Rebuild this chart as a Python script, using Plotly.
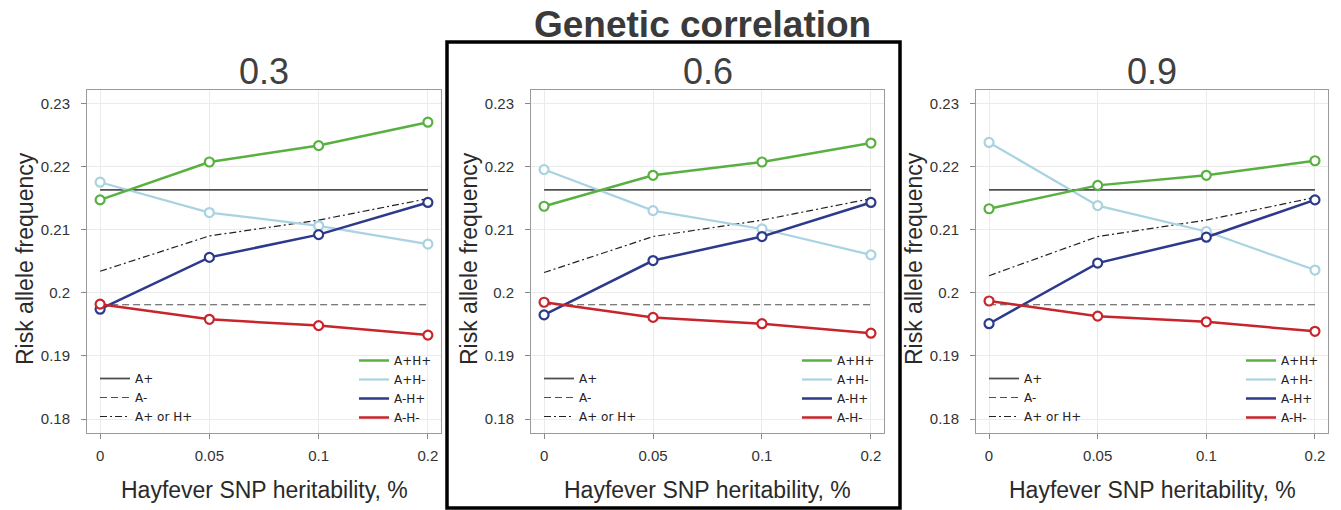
import plotly.graph_objects as go

# ---------------- data ----------------
heritability = ["0", "0.05", "0.1", "0.2"]
correlations = ["0.3", "0.6", "0.9"]

# one list per panel (genetic correlation 0.3, 0.6, 0.9)
a_pos_h_pos = [
    [0.2147, 0.2207, 0.2233, 0.2270],
    [0.2137, 0.2186, 0.2207, 0.2237],
    [0.2133, 0.2170, 0.2186, 0.2209],
]
a_pos_h_neg = [
    [0.2175, 0.2127, 0.2106, 0.2077],
    [0.2195, 0.2130, 0.2101, 0.2060],
    [0.2238, 0.2138, 0.2097, 0.2036],
]
a_neg_h_pos = [
    [0.1974, 0.2056, 0.2092, 0.2143],
    [0.1965, 0.2051, 0.2089, 0.2143],
    [0.1951, 0.2047, 0.2088, 0.2147],
]
a_neg_h_neg = [
    [0.1982, 0.1958, 0.1948, 0.1933],
    [0.1985, 0.1961, 0.1951, 0.1936],
    [0.1987, 0.1963, 0.1954, 0.1939],
]
a_pos_or_h_pos = [
    [0.2034, 0.2090, 0.2115, 0.2149],
    [0.2032, 0.2089, 0.2115, 0.2149],
    [0.2027, 0.2089, 0.2115, 0.2151],
]
a_pos = [0.2163, 0.2163, 0.2163]
a_neg = [0.1981, 0.1981, 0.1981]

y_ticks = [0.18, 0.19, 0.20, 0.21, 0.22, 0.23]
y_tick_text = ["0.18", "0.19", "0.2", "0.21", "0.22", "0.23"]

# ---------------- styles ----------------
W, H = 1341, 510
C_GREEN = "#58b040"
C_LBLUE = "#a9d3e0"
C_NAVY = "#2d3a8c"
C_RED = "#c8242b"
C_REF = "#505050"
TXT = "#3a3a3a"

panel_px = [(87, 441), (531, 884), (976, 1328)]
plot_top, plot_bot = 90, 433

fig = go.Figure()

colored = [
    ("A+H+", a_pos_h_pos, C_GREEN, 2.5, 1),
    ("A+H-", a_pos_h_neg, C_LBLUE, 2.2, 2),
    ("A-H+", a_neg_h_pos, C_NAVY, 2.5, 3),
    ("A-H-", a_neg_h_neg, C_RED, 2.5, 4),
]
draw_order = [1, 0, 2, 3]

for p in range(3):
    xa = "x" if p == 0 else f"x{p+1}"
    ya = "y" if p == 0 else f"y{p+1}"
    leg_left = "legend" if p == 0 else f"legend{2*p+1}"
    leg_right = f"legend{2*p+2}"

    # reference lines
    fig.add_trace(go.Scatter(
        x=[heritability[0], heritability[-1]], y=[a_pos[p], a_pos[p]],
        mode="lines", name="A+", line=dict(color=C_REF, width=1.8),
        xaxis=xa, yaxis=ya, legend=leg_left, legendrank=1, hoverinfo="skip"))
    fig.add_trace(go.Scatter(
        x=[heritability[0], heritability[-1]], y=[a_neg[p], a_neg[p]],
        mode="lines", name="A-", line=dict(color=C_REF, width=1.2, dash="7px,4px"),
        xaxis=xa, yaxis=ya, legend=leg_left, legendrank=2, hoverinfo="skip"))
    fig.add_trace(go.Scatter(
        x=heritability, y=a_pos_or_h_pos[p],
        mode="lines", name="A+ or H+", line=dict(color="#222222", width=1.2, dash="7px,3px,2px,3px"),
        xaxis=xa, yaxis=ya, legend=leg_left, legendrank=3, hoverinfo="skip"))

    for i in draw_order:
        name, vals, col, lw, rank = colored[i]
        fig.add_trace(go.Scatter(
            x=heritability, y=vals[p], mode="lines", name=name,
            line=dict(color=col, width=lw),
            xaxis=xa, yaxis=ya, legend=leg_right, legendrank=rank))
    for i in draw_order:
        name, vals, col, lw, rank = colored[i]
        fig.add_trace(go.Scatter(
            x=heritability, y=vals[p], mode="markers", name=name, showlegend=False,
            marker=dict(symbol="circle", size=9, color="white", line=dict(color=col, width=2.2)),
            xaxis=xa, yaxis=ya))

layout = dict(
    width=W, height=H, autosize=False,
    margin=dict(l=0, r=0, t=0, b=0),
    paper_bgcolor="white", plot_bgcolor="white",
    font=dict(family="Liberation Sans, Arial, sans-serif", color=TXT),
    showlegend=True,
)

ydom = [1 - plot_bot / H, 1 - plot_top / H]
annotations = []
for p in range(3):
    x0, x1 = panel_px[p]
    xk = "xaxis" if p == 0 else f"xaxis{p+1}"
    yk = "yaxis" if p == 0 else f"yaxis{p+1}"
    xa = "x" if p == 0 else f"x{p+1}"
    ya = "y" if p == 0 else f"y{p+1}"
    layout[xk] = dict(
        domain=[x0 / W, x1 / W], anchor=ya, type="category",
        categoryorder="array", categoryarray=heritability,
        range=[-0.12, 3.12], showgrid=True, gridcolor="#ebebeb", gridwidth=1,
        showline=True, linecolor="#9a9a9a", linewidth=1, mirror=True,
        ticks="outside", ticklen=5, tickcolor="#888888", ticklabelstandoff=4,
        tickfont=dict(size=15, color="#333333"), zeroline=False,
    )
    layout[yk] = dict(
        domain=ydom, anchor=xa, range=[0.1778, 0.2321],
        tickvals=y_ticks, ticktext=y_tick_text,
        showgrid=True, gridcolor="#ebebeb", gridwidth=1,
        showline=True, linecolor="#9a9a9a", linewidth=1, mirror=True,
        ticks="outside", ticklen=5, tickcolor="#888888", ticklabelstandoff=8,
        tickfont=dict(size=15, color="#333333"), zeroline=False,
    )
    cx = (x0 + x1) / 2
    # panel title
    annotations.append(dict(
        text=correlations[p], x=cx / W, y=1 - 72 / H, xref="paper", yref="paper",
        xanchor="center", yanchor="middle", showarrow=False,
        font=dict(size=36, color="#404040")))
    # x axis title
    annotations.append(dict(
        text="Hayfever SNP heritability, %", x=cx / W, y=1 - 490 / H,
        xref="paper", yref="paper", xanchor="center", yanchor="middle",
        showarrow=False, font=dict(size=23, color="#2a2a2a")))
    # y axis title
    annotations.append(dict(
        text="Risk allele frequency", x=(x0 - 62) / W, y=1 - 259 / H,
        xref="paper", yref="paper", xanchor="center", yanchor="middle",
        textangle=-90, showarrow=False, font=dict(size=23, color="#2a2a2a")))

    leg_left = "legend" if p == 0 else f"legend{2*p+1}"
    leg_right = f"legend{2*p+2}"
    leg_font = dict(size=12, color="#222222", family="DejaVu Sans, Liberation Sans, sans-serif")
    layout[leg_left] = dict(
        x=(x0 + 8) / W, y=1 - 364 / H, xanchor="left", yanchor="top",
        bgcolor="rgba(0,0,0,0)", borderwidth=0, tracegroupgap=0,
        font=leg_font, itemwidth=30)
    layout[leg_right] = dict(
        x=(x1 - 4) / W, y=1 - 346 / H, xanchor="right", yanchor="top",
        bgcolor="rgba(0,0,0,0)", borderwidth=0, tracegroupgap=0,
        font=leg_font, itemwidth=30)

annotations.append(dict(
    text="<b>Genetic correlation</b>", x=702 / W, y=1 - 24 / H,
    xref="paper", yref="paper", xanchor="center", yanchor="middle",
    showarrow=False, font=dict(size=37, color="#3a3a3a")))
layout["annotations"] = annotations
layout["shapes"] = [dict(
    type="rect", xref="paper", yref="paper",
    x0=447 / W, x1=900 / W, y0=1 - 508 / H, y1=1 - 42 / H,
    line=dict(color="black", width=3.5), fillcolor="rgba(0,0,0,0)")]

fig.update_layout(**layout)

fig.write_html("out.html", config={"displayModeBar": False},
               post_script="document.body.style.margin='0';document.body.style.overflow='hidden';")
